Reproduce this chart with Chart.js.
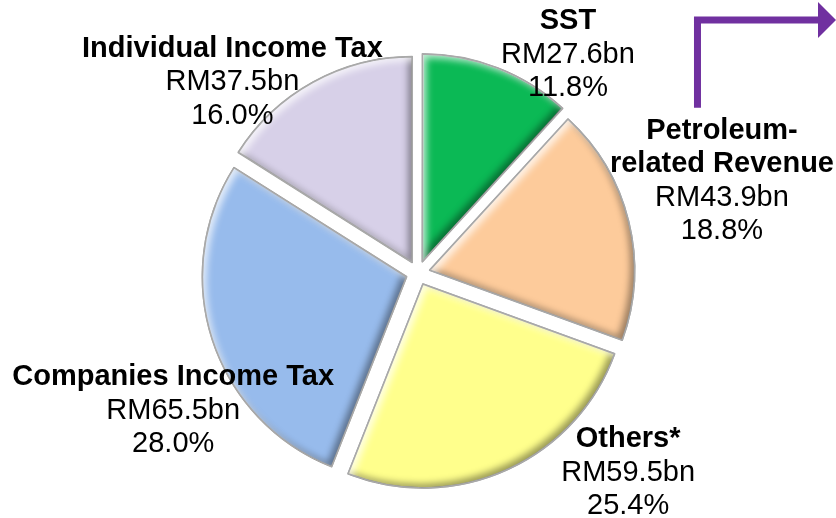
<!doctype html>
<html lang="en">
<head>
<meta charset="utf-8">
<title>Revenue composition</title>
<style>
  html, body {margin: 0; padding: 0; background: #fff;}
  #wrap {width: 836px; height: 518px; position: relative;}
</style>
</head>
<body>
<div id="wrap"><canvas id="myChart" width="836" height="518"></canvas></div>

<script src="https://cdn.jsdelivr.net/npm/chart.js@4/dist/chart.umd.min.js"></script>
<script>
// data
var categories = ['SST', ['Petroleum-', 'related Revenue'], 'Others*', 'Companies Income Tax', 'Individual Income Tax'];
var amounts = [27.6, 43.9, 59.5, 65.5, 37.5];            // RM bn
var shares = ['11.8%', '18.8%', '25.4%', '28.0%', '16.0%'];
var colours = ['#0bb955', '#fdcb9b', '#ffff8c', '#97bbec', '#d7d0e8'];

// where each label block sits, in units of the pie radius from the centre
var labelSpots = [[0.735, -1.07], [1.49, -0.45], [1.03, 0.98], [-1.2, 0.676], [-0.91, -0.936]];

// same geometry chart.js v4 uses when it draws an offset arc
function slicePath(ctx, arc) {
  var p = arc.getProps(['x', 'y', 'startAngle', 'endAngle', 'outerRadius', 'circumference'], true);
  var off = (arc.options.offset || 0) / 4;
  var mid = (p.startAngle + p.endAngle) / 2;
  var fix = 1 - Math.sin(Math.min(Math.PI, p.circumference || 0));
  var r = p.outerRadius + off * fix;
  var cx = p.x + Math.cos(mid) * off, cy = p.y + Math.sin(mid) * off;
  ctx.beginPath();
  ctx.moveTo(cx, cy);
  ctx.arc(cx, cy, r, p.startAngle, p.endAngle);
  ctx.closePath();
  return {cx: cx, cy: cy, r: r, s: p.startAngle, e: p.endAngle};
}

// soft bevel on each slice: dark inner shadow bottom-right, light one top-left
var bevel = {
  id: 'bevel',
  afterDatasetDraw: function(chart) {
    var ctx = chart.ctx;
    chart.getDatasetMeta(0).data.forEach(function(arc) {
      [['rgba(0,0,0,0.4)', -4, -4], ['rgba(255,255,255,0.75)', 4, 4]].forEach(function(sh) {
        ctx.save();
        var g = slicePath(ctx, arc);
        ctx.clip();
        ctx.beginPath();
        ctx.rect(-2000, -2000, 5000, 5000);
        ctx.moveTo(g.cx, g.cy);
        ctx.arc(g.cx, g.cy, g.r, g.e, g.s, true);
        ctx.closePath();
        ctx.shadowColor = sh[0];
        ctx.shadowBlur = 7;
        ctx.shadowOffsetX = sh[1];
        ctx.shadowOffsetY = sh[2];
        ctx.fillStyle = '#000';
        ctx.fill('evenodd');
        ctx.restore();
      });
      ctx.save();
      slicePath(ctx, arc);
      ctx.strokeStyle = '#a9a9a9';
      ctx.lineWidth = 1.6;
      ctx.lineJoin = 'round';
      ctx.stroke();
      ctx.restore();
    });
  }
};

var labels = {
  id: 'outLabels',
  afterDatasetsDraw: function(chart) {
    var ctx = chart.ctx;
    var meta = chart.getDatasetMeta(0);
    var first = meta.data[0];
    var cx = first.x, cy = first.y, r = first.outerRadius;
    var lh = 33.5;
    ctx.save();
    ctx.textAlign = 'center';
    ctx.textBaseline = 'middle';
    ctx.fillStyle = '#000';
    categories.forEach(function(cat, i) {
      var head = Array.isArray(cat) ? cat : [cat];
      var lines = head.map(function(t) { return [t, true]; });
      lines.push(['RM' + amounts[i].toFixed(1) + 'bn', false]);
      lines.push([shares[i], false]);
      var x = cx + labelSpots[i][0] * r;
      var y = cy + labelSpots[i][1] * r - (lines.length - 1) * lh / 2;
      lines.forEach(function(l, j) {
        ctx.font = (l[1] ? 'bold ' : '') + '29px "Liberation Sans", Arial, sans-serif';
        ctx.fillText(l[0], x, y + j * lh);
      });
    });

    // purple elbow arrow, top right
    var ax = cx + 1.37 * r, top = cy - 1.24 * r, right = chart.width;
    ctx.strokeStyle = '#7030a0';
    ctx.fillStyle = '#7030a0';
    ctx.lineWidth = 7;
    ctx.beginPath();
    ctx.moveTo(ax, cy - 0.81 * r);
    ctx.lineTo(ax, top);
    ctx.lineTo(right - 16, top);
    ctx.stroke();
    ctx.beginPath();
    ctx.moveTo(right, top);
    ctx.lineTo(right - 18, top - 18);
    ctx.lineTo(right - 18, top + 18);
    ctx.closePath();
    ctx.fill();
    ctx.restore();
  }
};

var ctx = document.getElementById('myChart').getContext('2d');
var myChart = new Chart(ctx, {
  type: 'pie',
  data: {
    labels: categories,
    datasets: [{
      data: amounts,
      backgroundColor: colours,
      borderColor: '#a9a9a9',
      borderWidth: 1.5,
      offset: 48,
      radius: 204
    }]
  },
  options: {
    responsive: false,
    animation: false,
    layout: {padding: {top: 28}},
    plugins: {legend: {display: false}, tooltip: {enabled: false}}
  },
  plugins: [bevel, labels]
});
</script>
</body>
</html>
